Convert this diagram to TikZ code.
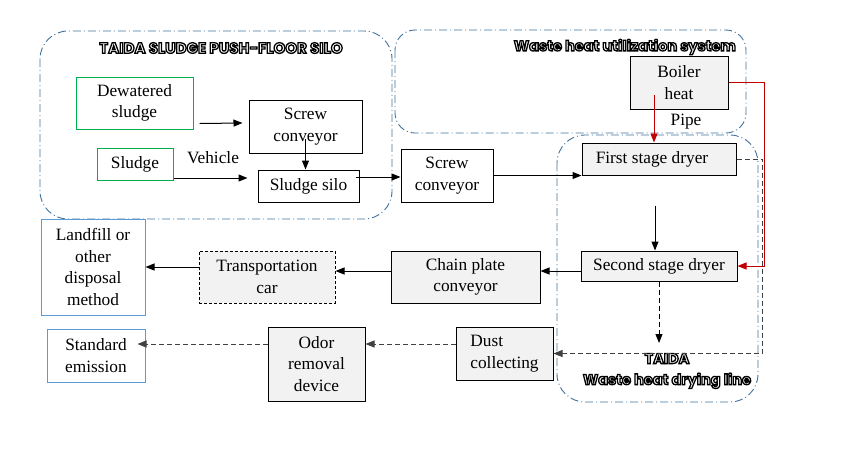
\documentclass[tikz,border=0pt]{standalone}
\usepackage{fontspec}
\setmainfont{Liberation Serif}
\newfontfamily\titlefont{Poppins}
\usetikzlibrary{arrows.meta}
\definecolor{boxgray}{HTML}{F2F2F2}
\definecolor{groupblue}{HTML}{41719C}
\definecolor{boxgreen}{HTML}{00B050}
\definecolor{boxblue}{HTML}{5B9BD5}
\definecolor{pipered}{HTML}{C00000}
\newcommand{\grouptitle}[1]{{\titlefont\bfseries\color{white}\special{pdf:literal direct 2 Tr 1.3 w 0 G}#1\special{pdf:literal direct 0 Tr}}}
\begin{document}
\begin{tikzpicture}[x=1pt,y=-1pt]
\tikzstyle{box_style} = [draw=black, line width=1pt, align=center, inner sep=1pt, font=\fontsize{17.3}{21.5}\selectfont]
\tikzstyle{gray_style} = [box_style, fill=boxgray]
\tikzstyle{green_style} = [box_style, draw=boxgreen]
\tikzstyle{blue_style} = [box_style, draw=boxblue]
\tikzstyle{label_style} = [font=\fontsize{17.3}{21.5}\selectfont, inner sep=0pt]
\tikzstyle{title_style} = [font=\fontsize{14.5}{21}\selectfont, inner sep=0pt, align=center]
\tikzstyle{group_style} = [draw=groupblue, line width=0.9pt, dash pattern=on 8pt off 3pt on 1pt off 3pt]
\tikzstyle{edge_style} = [-{Triangle[length=9pt,width=7pt]}, black, line width=1pt]
\tikzstyle{red_style} = [edge_style, draw=pipered, -{Triangle[length=9pt,width=7pt,fill=pipered]}]
\tikzstyle{dash_style} = [edge_style, dash pattern=on 5pt off 3pt]
    \useasboundingbox (0,0) rectangle (848,451);

    \draw[group_style, rounded corners=28pt] (40,31) rectangle (392,219);
    \draw[group_style, rounded corners=20pt] (395,30) rectangle (746,133);
    \draw[group_style, rounded corners=28pt] (557,135) rectangle (758,402);

    \node[title_style, font=\fontsize{15}{19}\selectfont] (silotitle) at (221,48) {\grouptitle{TAIDA SLUDGE PUSH-FLOOR SILO}};
    \node[title_style, anchor=east] (heattitle) at (736,47) {\grouptitle{Waste heat utilization system}};
    \node[title_style] (linetitle) at (667,371) {\grouptitle{TAIDA}\\\grouptitle{Waste heat drying line}};

    \node[green_style, minimum width=117pt, minimum height=52pt] (dewatered) at (134.5,103) {Dewatered\\sludge};
    \node[box_style, minimum width=113pt, minimum height=53pt] (screwA) at (305.5,126.5) {Screw\\conveyor};
    \node[green_style, minimum width=76pt, minimum height=32pt] (sludge) at (135,164) {Sludge};
    \node[box_style, minimum width=101pt, minimum height=32pt] (silo) at (308.5,186) {Sludge silo};
    \node[box_style, minimum width=92pt, minimum height=53pt] (screwB) at (447,175.5) {Screw\\conveyor};
    \node[gray_style, minimum width=154pt, minimum height=32pt] (first) at (659,159) {First stage dryer\hspace*{14pt}};
    \node[gray_style, minimum width=98pt, minimum height=53pt] (boiler) at (679,82.5) {Boiler\\heat};
    \node[gray_style, minimum width=156pt, minimum height=30pt] (second) at (659,266) {Second stage dryer};
    \node[gray_style, minimum width=149pt, minimum height=52pt] (chain) at (465.5,277) {Chain plate\\conveyor};
    \node[gray_style, dash pattern=on 3pt off 2pt, minimum width=136pt, minimum height=52pt] (transport) at (267,277) {Transportation\\car};
    \node[blue_style, minimum width=104pt, minimum height=96pt] (landfill) at (93,267) {Landfill or\\other\\disposal\\method};
    \node[blue_style, minimum width=98pt, minimum height=53pt] (standard) at (96,355.5) {Standard\\emission};
    \node[gray_style, minimum width=97pt, minimum height=74pt] (odor) at (316.5,364) {Odor\\removal\\device};
    \node[gray_style, align=left, minimum width=97pt, minimum height=53pt] (dust) at (504.5,353.5) {Dust\\collecting};

    \node[label_style] (vehicle) at (213,158) {Vehicle};
    \node[label_style] (pipe) at (686,122) {Pipe};
    \coordinate (dryend) at (659,343);

    \draw[edge_style] ([shift={(6pt,6pt)}]dewatered.south east) -- ([shift={(-6pt,3.5pt)}]screwA.west);
    \draw[edge_style] ([yshift=-14pt]sludge.east) -- ([shift={(-10pt,8pt)}]silo.west);
    \draw[edge_style] ([yshift=15pt]screwA.south) -- (screwA.south |- silo.north);
    \draw[edge_style] ([shift={(-4pt,9pt)}]silo.east) -- ([yshift=-1.5pt]screwB.west);
    \draw[edge_style] (screwB.east) -- (screwB.east -| first.west);
    \draw[edge_style] ([shift={(-4pt,-30pt)}]first.south) -- ([xshift=-4pt]second.north);
    \draw[edge_style] ([yshift=-5pt]second.west) -- ([yshift=6pt]chain.east);
    \draw[edge_style] ([yshift=6pt]chain.west) -- ([yshift=6pt]transport.east);
    \draw[edge_style] ([yshift=10pt]transport.west) -- (landfill.east);

    \draw[red_style] ([shift={(-25pt,-12.5pt)}]boiler.center) -- ([xshift=-5pt]first.north);
    \draw[red_style] (boiler.east) -- ++(36,0) |- (second.east);

    \draw[dash_style] (second.south) -- (dryend);
    \draw[dash_style, black!75] (first.east) -- ++(26,0) |- (dust.east);
    \draw[dash_style, black!75] ([yshift=9.5pt]dust.west) -- ([yshift=20pt]odor.east);
    \draw[dash_style, black!75] ([yshift=20pt]odor.west) -- ([shift={(-8pt,11.5pt)}]standard.east);
\end{tikzpicture}
\end{document}
